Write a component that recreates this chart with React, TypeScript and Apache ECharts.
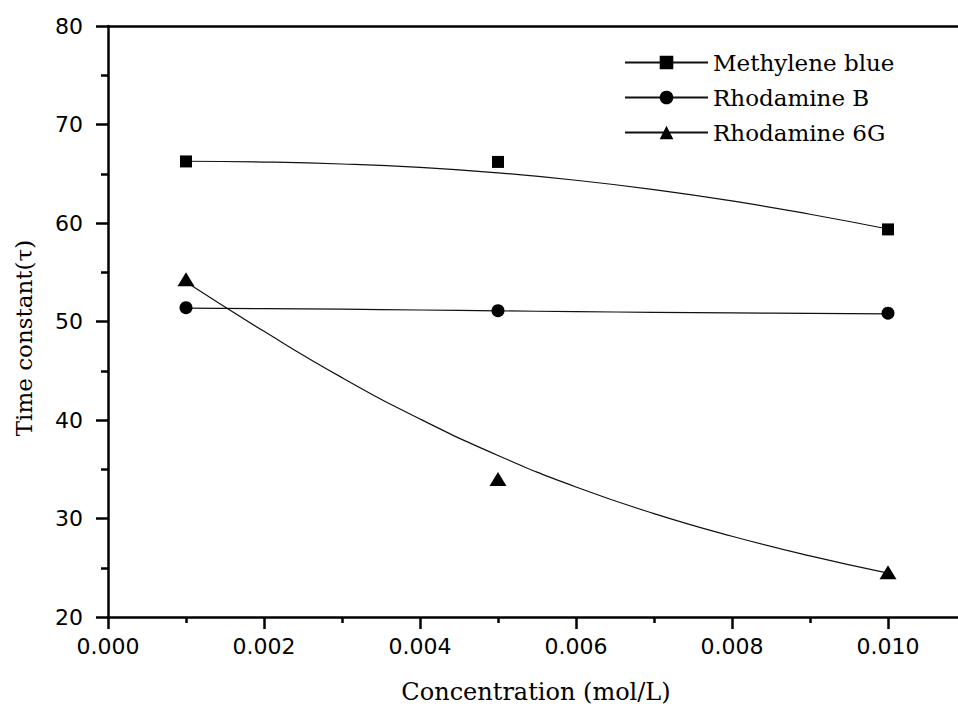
import React, { useEffect, useRef } from "react";
import * as echarts from "echarts";

const concentration = [0.001, 0.005, 0.01];
const methyleneBlue = [66.25, 66.2, 59.35];
const rhodamineB = [51.4, 51.1, 50.85];
const rhodamine6G = [54.28, 34.0, 24.54];

const fitConcentration = [0.001, 0.002, 0.003, 0.004, 0.005, 0.006, 0.007, 0.008, 0.009, 0.01];
const methyleneBlueFit = [66.27, 66.19, 65.99, 65.64, 65.09, 64.34, 63.39, 62.24, 60.89, 59.39];
const rhodamineBFit = [51.35, 51.3, 51.25, 51.17, 51.08, 51.0, 50.93, 50.87, 50.82, 50.78];
const rhodamine6GFit = [54.0, 49.0, 44.3, 40.1, 36.4, 33.2, 30.5, 28.2, 26.2, 24.45];

const seriesNames = ["Methylene blue", "Rhodamine B", "Rhodamine 6G"];
const xTitle = "Concentration (mol/L)";
const yTitle = "Time constant(\u03c4)";

const pair = (xs: number[], ys: number[]) => xs.map((x, i) => [x, ys[i]]);

export default function App() {
  const ref = useRef<HTMLDivElement>(null);
  useEffect(() => {
    if (!ref.current) return;
    const chart = echarts.init(ref.current, undefined, { renderer: "svg" });
    const serif = "DejaVu Serif";
    const sans = "DejaVu Sans";
    const black = "#000";
    const symbols: any[] = ["rect", "circle", "triangle"];
    const sizes: any[] = [12, 13, [17, 14]];
    const pts = [methyleneBlue, rhodamineB, rhodamine6G];
    const fits = [methyleneBlueFit, rhodamineBFit, rhodamine6GFit];
    const series: any[] = [];
    seriesNames.forEach((name, i) => {
      series.push({
        name,
        type: "line",
        data: pair(fitConcentration, fits[i]),
        smooth: true,
        showSymbol: false,
        symbol: symbols[i],
        symbolSize: sizes[i],
        lineStyle: { color: "#111", width: 1.2 },
        itemStyle: { color: black, opacity: 1 },
        z: 2,
      });
      series.push({
        name: name + " data",
        type: "scatter",
        data: pair(concentration, pts[i]),
        symbol: symbols[i],
        symbolSize: sizes[i],
        itemStyle: { color: black, opacity: 1 },
        z: 3,
      });
    });
    const lineW = 2.5;
    const option: any = {
      animation: false,
      backgroundColor: "#fff",
      grid: { left: 108, right: 0, top: 26, bottom: 89 },
      legend: {
        data: seriesNames,
        orient: "vertical",
        left: 619,
        top: 46,
        itemWidth: 83,
        itemHeight: 17,
        itemGap: 12,
        textStyle: { fontFamily: serif, fontSize: 23, color: black, lineHeight: 23 },
        inactiveColor: "#000",
      },
      xAxis: [
        {
          type: "value",
          position: "bottom",
          min: 0,
          max: 0.011,
          interval: 0.002,
          axisLine: { show: true, onZero: false, lineStyle: { color: black, width: lineW } },
          axisTick: { show: true, inside: false, length: 12, lineStyle: { color: black, width: lineW } },
          minorTick: { show: true, splitNumber: 2, length: 6, lineStyle: { color: black, width: lineW } },
          splitLine: { show: false },
          axisLabel: {
            margin: 18,
            fontFamily: sans,
            fontSize: 22,
            color: black,
            showMaxLabel: false,
            formatter: (v: number) => v.toFixed(3),
          },
        },
        {
          type: "value",
          position: "top",
          min: 0,
          max: 0.011,
          axisLine: { show: true, onZero: false, lineStyle: { color: black, width: lineW } },
          axisTick: { show: false },
          axisLabel: { show: false },
          splitLine: { show: false },
        },
      ],
      yAxis: {
        type: "value",
        min: 20,
        max: 80,
        interval: 10,
        axisLine: { show: true, lineStyle: { color: black, width: lineW } },
        axisTick: { show: true, inside: false, length: 12, lineStyle: { color: black, width: lineW } },
        minorTick: { show: true, splitNumber: 2, length: 7, lineStyle: { color: black, width: lineW } },
        splitLine: { show: false },
        axisLabel: { margin: 25, fontFamily: sans, fontSize: 22, color: black },
      },
      graphic: [
        {
          type: "text",
          x: 536,
          y: 692,
          style: {
            text: xTitle,
            fontFamily: serif,
            fontSize: 24,
            fill: black,
            textAlign: "center",
            textVerticalAlign: "middle",
          },
        },
        {
          type: "text",
          x: 24,
          y: 338,
          rotation: Math.PI / 2,
          style: {
            text: yTitle,
            fontFamily: serif,
            fontSize: 23,
            fill: black,
            textAlign: "center",
            textVerticalAlign: "middle",
          },
        },
      ],
      series,
    };
    chart.setOption(option);
    return () => chart.dispose();
  }, []);
  return (
    <div
      style={{
        position: "absolute",
        left: 0,
        top: 0,
        width: 958,
        height: 706,
        overflow: "hidden",
        background: "#fff",
      }}
    >
      <div ref={ref} style={{ width: 966, height: 706 }} />
    </div>
  );
}
